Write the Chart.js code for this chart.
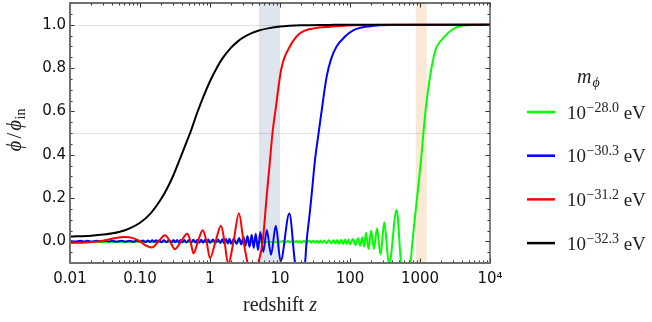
<!DOCTYPE html>
<html>
<head>
<meta charset="utf-8">
<script src="https://cdn.jsdelivr.net/npm/chart.js@4/dist/chart.umd.min.js"></script>
<style>
  html, body { margin: 0; padding: 0; background: #ffffff; }
  #wrap { width: 652px; height: 322px; position: relative; }
</style>
</head>
<body>
<div id="wrap"><canvas id="c" width="652" height="322"></canvas></div>
<script>
// ---------------- data ----------------
const xTickValues = [0.01, 0.1, 1, 10, 100, 1000, 10000];
const xTickLabels = ['0.01', '0.10', '1', '10', '100', '1000', '10\u2074'];
const yTickValues = [0.0, 0.2, 0.4, 0.6, 0.8, 1.0];
const yGridValues = [0.5, 1.0];
const blueBand = [5, 10];
const orangeBand = [870, 1250];

const legendTitle = 'm';
const legendTitleSub = '\u03D5';
const legendExponents = ['\u221228.0', '\u221230.3', '\u221231.2', '\u221232.3'];
const legendColors = ['#00ff00', '#0000ff', '#ff0000', '#000000'];

const greenZ = [
  0.01, 0.1, 1, 3, 6,
  10, 11, 12, 13, 14, 15, 16, 17, 18, 19,
  20, 22, 24, 26, 28, 30, 32, 34, 36, 38,
  40, 43, 46, 50, 54, 58, 62, 66, 70, 75,
  80, 85, 90, 95,
  100, 110, 120, 130, 140, 150, 160,
  169, 184, 200, 220, 243, 273, 309, 361, 464, 535,
  611, 732, 781, 906, 1034, 1140, 1247, 1469, 1693, 2042,
  2990, 4642, 10000
];
const greenPhi = [
  -0.003, -0.002, -0.003, -0.002, -0.003,
  -0.002, 0.001, -0.004, 0.001, -0.004, 0.002, -0.004, 0.002, -0.005, 0.002,
  -0.005, 0.002, -0.005, 0.003, -0.006, 0.003, -0.006, 0.003, -0.007, 0.004,
  -0.007, 0.004, -0.008, 0.005, -0.009, 0.005, -0.010, 0.006, -0.011, 0.007,
  -0.012, 0.008, -0.013, 0.009,
  -0.014, 0.011, -0.017, 0.014, -0.020, 0.018, -0.024,
  0.040, -0.035, 0.050, -0.035, 0.060, -0.060, 0.088, -0.110, 0.145, -0.100,
  -0.220, -0.100, 0.000, 0.200, 0.375, 0.530, 0.650, 0.805, 0.890, 0.930,
  0.980, 0.997, 1.000
];

const blueZ = [
  0.010, 0.012, 0.014, 0.016, 0.018, 0.020, 0.024, 0.028, 0.032, 0.036, 0.040, 0.046, 0.054, 0.062, 0.070, 0.080, 0.090,
  0.10, 0.11, 0.12, 0.13, 0.14, 0.15, 0.16, 0.17, 0.18, 0.19,
  0.20, 0.22, 0.24, 0.26, 0.28, 0.30, 0.32, 0.34, 0.36, 0.38,
  0.40, 0.43, 0.46, 0.50, 0.54, 0.58, 0.62, 0.66, 0.70, 0.75,
  0.80, 0.85, 0.90, 0.95,
  1.0, 1.1, 1.2, 1.3, 1.4, 1.5, 1.6, 1.7, 1.8, 1.9,
  2.0, 2.2, 2.4, 2.6, 2.8,
  3.01, 3.21, 3.43, 3.67, 3.94, 4.21, 4.50, 4.85, 5.23, 5.77,
  6.48, 7.44, 8.71, 10.2, 13.6, 16.4, 19.3, 22.8, 24.0, 26.4,
  28.6, 31.6, 34.9, 38.5, 46.4, 53.5, 64.6, 84.9, 111, 193,
  373, 10000
];
const bluePhi = [
  0.002, -0.001, 0.003, -0.001, 0.003, -0.001, 0.003, -0.001, 0.003, -0.001, 0.003, -0.002, 0.003, -0.002, 0.003, -0.002, 0.003,
  -0.002, 0.004, -0.003, 0.004, -0.003, 0.005, -0.003, 0.005, -0.003, 0.005,
  -0.004, 0.005, -0.004, 0.005, -0.004, 0.006, -0.004, 0.006, -0.004, 0.006,
  -0.005, 0.006, -0.005, 0.006, -0.005, 0.007, -0.005, 0.007, -0.006, 0.007,
  -0.006, 0.007, -0.006, 0.008,
  -0.007, 0.008, -0.007, 0.009, -0.008, 0.010, -0.009, 0.011, -0.010, 0.012,
  -0.011, 0.013, -0.012, 0.015, -0.014,
  0.020, -0.020, 0.025, -0.025, 0.030, -0.030, 0.035, -0.040, 0.043, -0.049,
  0.052, -0.062, 0.072, -0.092, 0.128, -0.100, -0.200, -0.100, 0.000, 0.120,
  0.230, 0.375, 0.480, 0.580, 0.760, 0.840, 0.900, 0.945, 0.974, 0.993,
  0.999, 1.000
];

const redZ = [
  0.01, 0.0164, 0.0268, 0.0398, 0.061, 0.0794, 0.1, 0.122, 0.148, 0.184,
  0.228, 0.268, 0.316, 0.386, 0.474, 0.526, 0.581, 0.674, 0.787, 0.891,
  1.0, 1.2, 1.436, 1.61, 1.82, 2.17, 2.59, 3.01, 3.43, 3.98,
  4.9, 5.66, 6.46, 7.2, 7.81, 8.57, 10.5, 13.9, 19.3, 31.6,
  51.8, 100, 518, 10000
];
const redPhi = [
  -0.008, -0.005, 0.0, 0.012, 0.020, 0.015, 0.0, -0.020, -0.028, 0.0,
  0.028, 0.0, -0.036, 0.0, 0.035, 0.0, -0.055, 0.0, 0.051, 0.0,
  -0.078, 0.0, 0.072, 0.0, -0.105, 0.0, 0.129, 0.0, -0.100, -0.200,
  -0.100, 0.0, 0.210, 0.375, 0.500, 0.600, 0.800, 0.900, 0.960, 0.984,
  0.990, 0.997, 1.000, 1.000
];

const blackZ = [
  0.01, 0.02, 0.03, 0.05, 0.07, 0.1, 0.14, 0.2, 0.25, 0.3,
  0.37, 0.45, 0.53, 0.65, 0.8, 1.0, 1.2, 1.5, 2, 2.5,
  3, 4, 5, 7, 10, 20, 50, 100, 10000
];
const blackPhi = [
  0.022, 0.026, 0.031, 0.043, 0.059, 0.086, 0.127, 0.195, 0.251, 0.305,
  0.378, 0.449, 0.507, 0.590, 0.666, 0.739, 0.790, 0.843, 0.894, 0.923,
  0.941, 0.962, 0.973, 0.984, 0.991, 0.997, 0.999, 1.0, 1.0
];

// ---------------- chart ----------------
function pts(zs, vs) { return zs.map((z, i) => ({ x: z, y: vs[i] })); }

const SERIF = '"Liberation Serif", "DejaVu Serif", serif';
const SANS = '"DejaVu Sans", sans-serif';

function drawPieces(ctx, pieces, x, y, align) {
  let total = 0;
  pieces.forEach(p => { ctx.font = p.font; p.w = ctx.measureText(p.t).width; total += p.w + (p.gap || 0); });
  let cx = align === 'center' ? x - total / 2 : x;
  pieces.forEach(p => {
    ctx.font = p.font;
    ctx.fillText(p.t, cx, y + (p.dy || 0));
    cx += p.w + (p.gap || 0);
  });
}

const decor = {
  id: 'decor',
  beforeDatasetsDraw(chart) {
    const { ctx, chartArea: a, scales: { x, y } } = chart;
    ctx.save();
    ctx.fillStyle = '#dfe5ee';
    let x0 = x.getPixelForValue(blueBand[0]), x1 = x.getPixelForValue(blueBand[1]);
    ctx.fillRect(x0, a.top, x1 - x0, a.bottom - a.top);
    ctx.fillStyle = '#f9e9d6';
    x0 = x.getPixelForValue(orangeBand[0]); x1 = x.getPixelForValue(orangeBand[1]);
    ctx.fillRect(x0, a.top, x1 - x0, a.bottom - a.top);
    ctx.strokeStyle = 'rgba(0,0,0,0.11)';
    ctx.lineWidth = 1;
    yGridValues.forEach(v => {
      const py = Math.round(y.getPixelForValue(v)) + 0.5;
      ctx.beginPath(); ctx.moveTo(a.left, py); ctx.lineTo(a.right, py); ctx.stroke();
    });
    ctx.restore();
  },
  afterDraw(chart) {
    const { ctx, chartArea: a, scales: { x, y } } = chart;
    ctx.save();
    // ticks
    ctx.strokeStyle = '#333';
    ctx.lineWidth = 1;
    const majorLen = 4.5, minorLen = 2.5;
    const xMinor = [];
    for (let d = 0.01; d < 5000; d *= 10) for (let m = 2; m <= 9; m++) xMinor.push(d * m);
    const tickX = (v, len) => {
      const px = Math.round(x.getPixelForValue(v)) + 0.5;
      ctx.beginPath();
      ctx.moveTo(px, a.bottom); ctx.lineTo(px, a.bottom - len);
      ctx.moveTo(px, a.top); ctx.lineTo(px, a.top + len);
      ctx.stroke();
    };
    xMinor.forEach(v => tickX(v, minorLen));
    xTickValues.forEach(v => tickX(v, majorLen));
    const tickY = (v, len) => {
      const py = Math.round(y.getPixelForValue(v)) + 0.5;
      ctx.beginPath();
      ctx.moveTo(a.left, py); ctx.lineTo(a.left + len, py);
      ctx.moveTo(a.right, py); ctx.lineTo(a.right - len, py);
      ctx.stroke();
    };
    for (let k = -2; k <= 22; k++) {
      const v = k * 0.05;
      if (k % 4 === 0) tickY(v, majorLen); else tickY(v, minorLen);
    }
    // frame
    ctx.strokeStyle = '#444';
    ctx.lineWidth = 1.3;
    ctx.beginPath();
    ctx.moveTo(a.left, a.top); ctx.lineTo(a.right, a.top); ctx.lineTo(a.right, a.bottom);
    ctx.stroke();
    ctx.strokeStyle = '#707070';
    ctx.lineWidth = 2;
    ctx.beginPath();
    ctx.moveTo(a.left, a.top - 1); ctx.lineTo(a.left, a.bottom); ctx.lineTo(a.right + 1, a.bottom);
    ctx.stroke();

    // axis titles
    ctx.fillStyle = '#222';
    ctx.textBaseline = 'alphabetic';
    drawPieces(ctx, [
      { t: 'redshift ', font: '20px ' + SERIF },
      { t: 'z', font: 'italic 20px ' + SERIF }
    ], (a.left + a.right) / 2, 311, 'center');

    ctx.save();
    ctx.translate(21, 130);
    ctx.rotate(-Math.PI / 2);
    drawPieces(ctx, [
      { t: '\u03D5', font: 'italic 21px ' + SERIF, gap: 2 },
      { t: '/', font: '21px ' + SERIF, gap: 2 },
      { t: '\u03D5', font: 'italic 21px ' + SERIF, gap: 0.5 },
      { t: 'in', font: '14px ' + SERIF, dy: 4 }
    ], 0, 0, 'center');
    ctx.restore();

    // legend
    const lx = 577;
    drawPieces(ctx, [
      { t: legendTitle, font: 'italic 20px ' + SERIF, gap: 1 },
      { t: legendTitleSub, font: 'italic 14px ' + SERIF, dy: 4 }
    ], lx, 83, 'left');
    legendExponents.forEach((e, i) => {
      const ly = 112 + i * 43.7;
      ctx.strokeStyle = legendColors[i];
      ctx.lineWidth = 2.5;
      ctx.beginPath(); ctx.moveTo(527, ly); ctx.lineTo(555, ly); ctx.stroke();
      ctx.fillStyle = '#222';
      drawPieces(ctx, [
        { t: '10', font: '19px ' + SERIF, gap: 0.5 },
        { t: e, font: '14px ' + SERIF, dy: -7 },
        { t: ' eV', font: '19px ' + SERIF }
      ], 567, ly + 6.5, 'left');
    });
    ctx.restore();
  }
};

const common = { pointRadius: 0, borderWidth: 2, cubicInterpolationMode: 'monotone', fill: false, clip: 0 };

new Chart(document.getElementById('c'), {
  type: 'line',
  data: {
    datasets: [
      Object.assign({ label: '10^-32.3 eV', data: pts(blackZ, blackPhi), borderColor: '#000000' }, common),
      Object.assign({ label: '10^-31.2 eV', data: pts(redZ, redPhi), borderColor: '#ff0000' }, common),
      Object.assign({ label: '10^-30.3 eV', data: pts(blueZ, bluePhi), borderColor: '#0000ff' }, common),
      Object.assign({ label: '10^-28.0 eV', data: pts(greenZ, greenPhi), borderColor: '#00ff00' }, common)
    ]
  },
  options: {
    responsive: false,
    devicePixelRatio: 1,
    animation: false,
    layout: { padding: { left: 0, right: 162, top: 3, bottom: 0 } },
    plugins: { legend: { display: false }, tooltip: { enabled: false } },
    scales: {
      x: {
        type: 'logarithmic', min: 0.01, max: 10000,
        grid: { display: false, drawTicks: false }, border: { display: false },
        afterBuildTicks: s => { s.ticks = xTickValues.map(v => ({ value: v })); },
        afterFit: s => { s.height = 59; s.paddingLeft = 0; s.paddingRight = 0; },
        ticks: {
          autoSkip: false, maxRotation: 0, padding: 7, color: '#111',
          font: { family: SANS, size: 15 },
          callback: (v, i) => xTickLabels[i]
        }
      },
      y: {
        type: 'linear', min: -0.1, max: 1.1,
        grid: { display: false, drawTicks: false }, border: { display: false },
        afterBuildTicks: s => { s.ticks = yTickValues.map(v => ({ value: v })); },
        afterFit: s => { s.width = 70; s.paddingTop = 0; s.paddingBottom = 0; },
        ticks: {
          padding: 4, color: '#111',
          font: { family: SANS, size: 15 },
          callback: v => Number(v).toFixed(1)
        }
      }
    }
  },
  plugins: [decor]
});
</script>
</body>
</html>
